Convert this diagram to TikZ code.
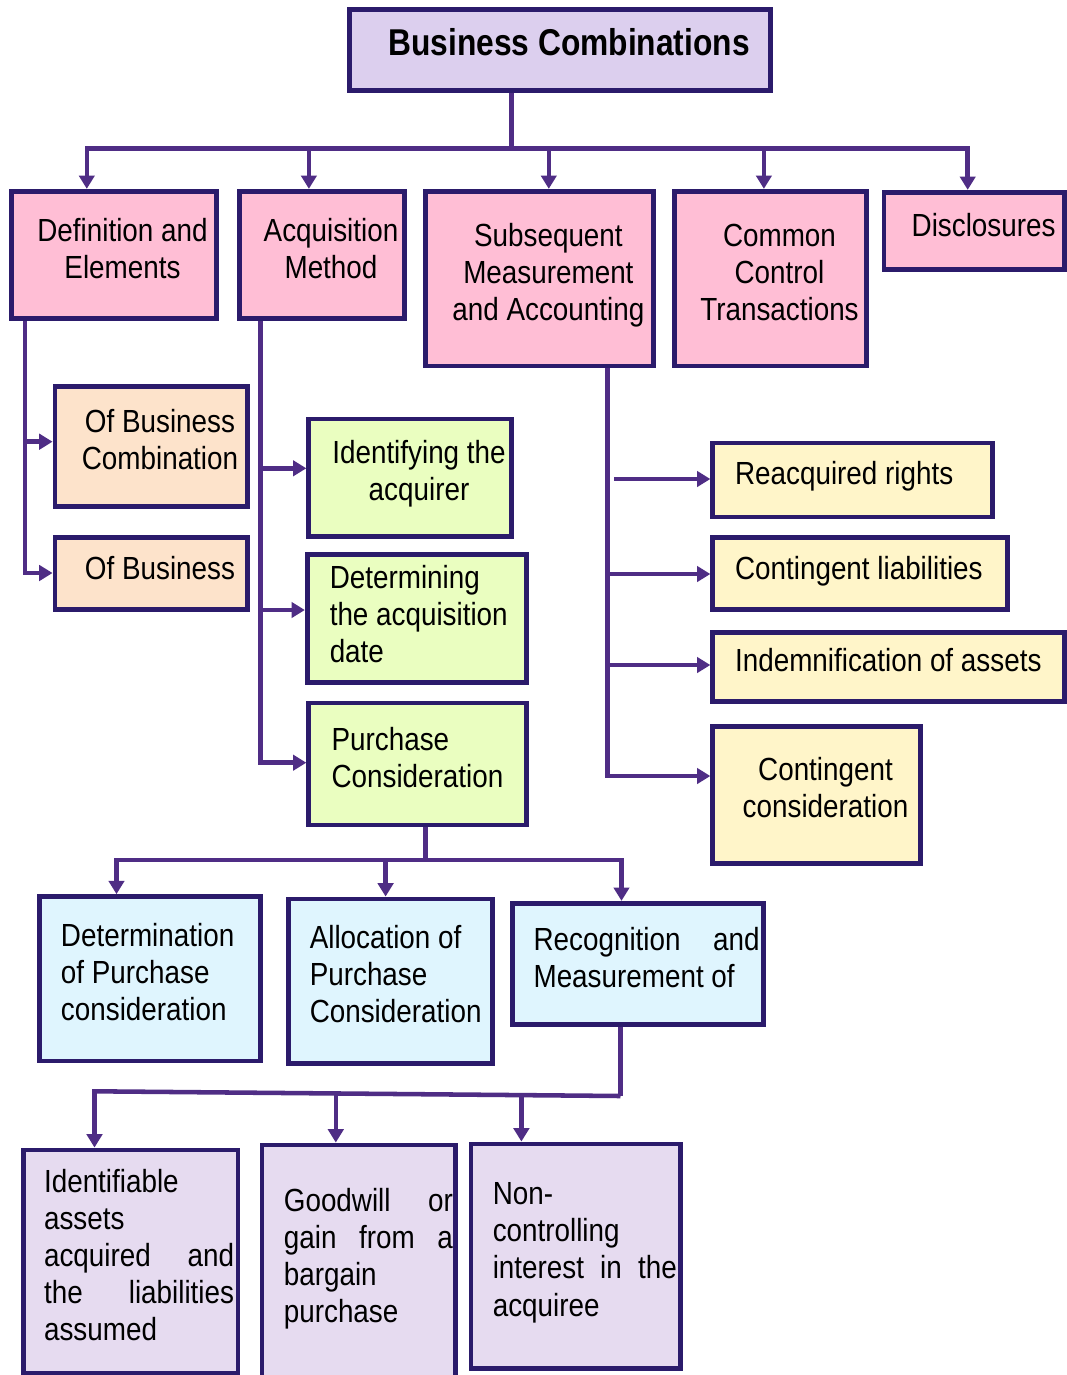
\documentclass[tikz,border=0pt]{standalone}
\usepackage{fontspec}
\usetikzlibrary{arrows.meta,fit}
\newfontfamily\bxfont[FakeStretch=0.87]{Liberation Sans}
\newfontfamily\ttlfont[FakeStretch=0.85]{Liberation Sans}
\setlength\parindent{0pt}
\newdimen\pxu \pxu=0.75pt
\newcommand\jl[2]{\makebox[#1\pxu][s]{#2}}
\definecolor{bordercol}{HTML}{2B1B6B}
\definecolor{linecol}{HTML}{4F2D85}
\definecolor{rootfill}{HTML}{DCCFEE}
\definecolor{pinkfill}{HTML}{FFBED5}
\definecolor{peachfill}{HTML}{FDE3CB}
\definecolor{greenfill}{HTML}{EAFEC0}
\definecolor{yellowfill}{HTML}{FFF5C9}
\definecolor{cyanfill}{HTML}{DFF5FE}
\definecolor{lavfill}{HTML}{E6DBF0}
\begin{document}
\begin{tikzpicture}[x=0.75pt,y=-0.75pt,
  box/.style={draw=bordercol, line width=3.6pt, inner sep=0pt, rectangle},
  conn/.style={draw=linecol, line width=3.4pt},
  arr/.style={conn, -{Triangle[length=10pt,width=11.5pt]}},
  txt/.style={inner sep=0pt, text=black, font=\bxfont\fontsize{24}{27.8}\selectfont,
    execute at begin node=\strut, execute at end node=\strut},
  ttl/.style={inner sep=0pt, text=black, font=\ttlfont\bfseries\fontsize{28}{33}\selectfont}]
\fill[white] (0,0) rectangle (1067,1375);
\useasboundingbox (0,0) rectangle (1067,1375);

% boxes
\node[box, fill=rootfill, fit={(349.25,9.25) (770.25,90.75)}] (root) {};
\node[box, fill=pinkfill, fit={(11.25,191.25) (216.75,318.75)}] (def) {};
\node[box, fill=pinkfill, fit={(239.85,191.25) (404.75,318.75)}] (acq) {};
\node[box, fill=pinkfill, fit={(425.85,191.25) (653.45,366.05)}] (sub) {};
\node[box, fill=pinkfill, fit={(674.25,191.25) (866.75,366.05)}] (com) {};
\node[box, fill=pinkfill, fit={(883.95,192.25) (1064.75,269.45)}] (dis) {};
\node[box, fill=peachfill, fit={(54.95,386.55) (247.45,506.75)}] (ofbc) {};
\node[box, fill=peachfill, fit={(54.95,537.25) (247.45,609.45)}] (ofb) {};
\node[box, fill=greenfill, fit={(308.75,418.95) (511.55,536.75)}] (ida) {};
\node[box, fill=greenfill, fit={(307.25,554.55) (526.35,682.75)}] (dd) {};
\node[box, fill=greenfill, fit={(308.75,702.95) (526.35,825.05)}] (pc) {};
\node[box, fill=yellowfill, fit={(712.75,442.95) (992.45,517.05)}] (rea) {};
\node[box, fill=yellowfill, fit={(712.75,537.25) (1007.25,609.45)}] (cl) {};
\node[box, fill=yellowfill, fit={(712.75,632.25) (1064.75,701.75)}] (ind) {};
\node[box, fill=yellowfill, fit={(712.75,726.55) (920.75,863.45)}] (cc) {};
\node[box, fill=cyanfill, fit={(39.55,896.55) (260.45,1061.05)}] (det) {};
\node[box, fill=cyanfill, fit={(288.25,898.95) (492.75,1063.45)}] (alc) {};
\node[box, fill=cyanfill, fit={(512.25,903.25) (763.75,1024.45)}] (rec) {};
\node[box, fill=lavfill, fit={(23.25,1149.95) (238.05,1373.75)}] (idn) {};
\node[box, fill=lavfill, fit={(261.95,1144.95) (455.45,1400)}] (gw) {};
\node[box, fill=lavfill, fit={(470.95,1143.95) (680.35,1368.75)}] (nc) {};

% top level connectors
\coordinate (b0) at (511.4,148.3);
\coordinate (dDef) at (86.8,148.3);
\coordinate (dAcq) at (308.9,148.3);
\coordinate (dSub) at (548.8,148.3);
\coordinate (dCom) at (763.9,148.3);
\coordinate (dDis) at (967.7,148.3);
\draw[conn] (root.south -| b0) -- (b0);
\draw[arr] (b0) -- (dDef) -- (dDef |- def.north);
\draw[arr] (b0) -- (dDis) -- (dDis |- dis.north);
\draw[arr] (dAcq) -- (dAcq |- acq.north);
\draw[arr] (dSub) -- (dSub |- sub.north);
\draw[arr] (dCom) -- (dCom |- com.north);

% definition branch
\coordinate (e1) at (24.8,441.7);
\coordinate (e2) at (24.8,573);
\draw[arr] (def.south -| e2) -- (e2) -- (e2 -| ofb.west);
\draw[arr] (e1) -- (e1 -| ofbc.west);

% acquisition branch
\coordinate (f1) at (260.7,468.3);
\coordinate (f2) at (260.7,610);
\coordinate (f3) at (260.7,762.7);
\draw[arr] (acq.south -| f3) -- (f3) -- (f3 -| pc.west);
\draw[arr] (f1) -- (f1 -| ida.west);
\draw[arr] (f2) -- (f2 -| dd.west);

% subsequent branch
\coordinate (g1) at (614,479);
\coordinate (g2) at (607.7,574);
\coordinate (g3) at (607.7,665);
\coordinate (g4) at (607.7,776);
\draw[arr] (sub.south -| g4) -- (g4) -- (g4 -| cc.west);
\draw[arr] (g1) -- (g1 -| rea.west);
\draw[arr] (g2) -- (g2 -| cl.west);
\draw[arr] (g3) -- (g3 -| ind.west);

% purchase consideration branch
\coordinate (h0) at (425.3,860);
\coordinate (h1) at (116.5,860);
\coordinate (h2) at (385.6,860);
\coordinate (h3) at (621.5,860);
\draw[conn] (pc.south -| h0) -- (h0);
\draw[arr] (h0) -- (h1) -- (h1 |- det.north);
\draw[arr] (h0) -- (h3) -- (h3 |- rec.north);
\draw[arr] (h2) -- (h2 |- alc.north);

% recognition branch
\coordinate (k0) at (620.5,1096);
\coordinate (k1) at (94.5,1091.3);
\coordinate (k2) at (335.8,1093.4);
\coordinate (k3) at (521.4,1095.1);
\draw[conn] (rec.south -| k0) -- (k0);
\draw[arr] (k0) -- (k1) -- (k1 |- idn.north);
\draw[arr] (k2) -- (k2 |- gw.north);
\draw[arr] (k3) -- (k3 |- nc.north);

% texts
\node[ttl, anchor=base] (tRoot) at (569,55) {Business Combinations};
\node[txt, align=center] (tDef) at (122.5,253.8) {Definition and\\Elements};
\node[txt, align=center] (tAcq) at (331,253.8) {Acquisition\\Method};
\node[txt, align=center] (tSub) at (548.4,277.6) {Subsequent\\Measurement\\and Accounting};
\node[txt, align=center] (tCom) at (779.5,277.6) {Common\\Control\\Transactions};
\node[txt] (tDis) at (983.6,228.6) {Disclosures};
\node[txt, align=center] (tOfbc) at (160,445) {Of Business\\Combination};
\node[txt] (tOfb) at (160,571.6) {Of Business};
\node[txt, align=center] (tIda) at (419,475.8) {Identifying the\\acquirer};
\node[txt, align=left, anchor=west] (tDd) at (329.5,619.5) {Determining\\the acquisition\\date};
\node[txt, align=left, anchor=west] (tPc) at (331.3,762.5) {Purchase\\Consideration};
\node[txt, anchor=west] (tRea) at (734.8,477.4) {Reacquired rights};
\node[txt, anchor=west] (tCl) at (734.8,572.1) {Contingent liabilities};
\node[txt, anchor=west] (tInd) at (734.8,664.1) {Indemnification of assets};
\node[txt, align=center] (tCc) at (825.5,793.3) {Contingent\\consideration};
\node[txt, align=left, anchor=west] (tDet) at (60.7,977.6) {Determination\\of Purchase\\consideration};
\node[txt, align=left, anchor=west] (tAlc) at (309.5,979.1) {Allocation of\\Purchase\\Consideration};
\node[txt, align=left, anchor=west] (tRec) at (533.3,962.6) {\jl{226}{Recognition\hfill and}\\Measurement of};
\node[txt, align=left, anchor=west] (tIdn) at (43.8,1260.5) {Identifiable\\assets\\\jl{190}{acquired\hfill and}\\\jl{190}{the\hfill liabilities}\\assumed};
\node[txt, align=left, anchor=west] (tGw) at (283.6,1261) {\jl{169}{Goodwill\hfill or}\\\jl{169}{gain\hfill from\hfill a}\\bargain\\purchase};
\node[txt, align=left, anchor=west] (tNc) at (492.5,1255) {Non-\\controlling\\\jl{184}{interest\hfill in\hfill the}\\acquiree};
\end{tikzpicture}
\end{document}
